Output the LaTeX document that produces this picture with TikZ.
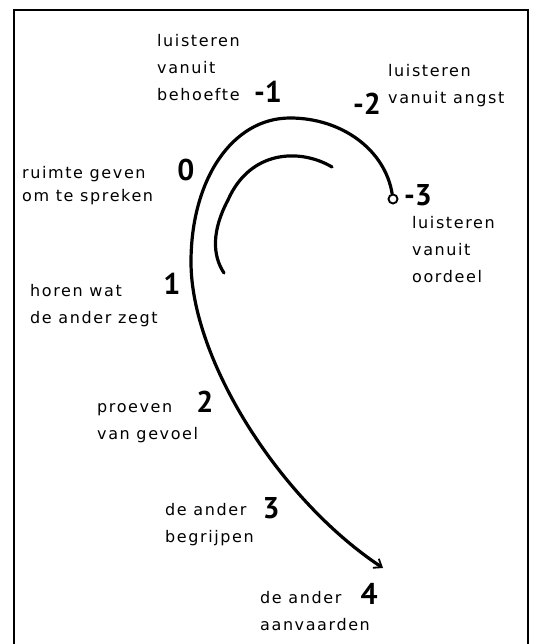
\documentclass[tikz,border=0pt]{standalone}
\usepackage{fontspec}
\usepackage{tikz}
\usetikzlibrary{arrows.meta}
\setmainfont{DejaVu Sans}[LetterSpace=10]
\newfontfamily\stepfamily{PT Sans}
\newcommand{\handfont}{\fontsize{16}{27}\selectfont}
\newcommand{\handtight}{\fontsize{16}{23}\selectfont}
\newcommand{\stepfont}{\stepfamily\bfseries\fontsize{30}{30}\selectfont}

\begin{document}
\begin{tikzpicture}[
  x=1pt, y=-1pt,
  lbl/.style={anchor=west, align=left, inner sep=0pt, font=\handfont},
  num/.style={inner sep=0pt, font=\stepfont},
  curve/.style={line width=3.2pt, line cap=round}
]
\useasboundingbox (0,0) rectangle (540,644);
\draw[line width=1.4pt] (14,650) -- (14,10) -- (528,10) -- (528,650);

\node[draw, circle, line width=1.9pt, minimum size=9pt, inner sep=0pt, fill=white] (start) at (393,199) {};
\coordinate (peak) at (290,118);
\coordinate (side) at (191,262);
\coordinate (finish) at (383,568);
\draw[curve, -{Straight Barb[length=2.5mm, width=3.8mm, line width=1.8pt]}] (start)
  .. controls (385,150) and (342,118) .. (peak)
  .. controls (232,118) and (191,180) .. (side)
  .. controls (191,360) and (280,500) .. (finish);

\coordinate (innerA) at (332,167);
\coordinate (innerB) at (228,200);
\coordinate (innerC) at (224,273);
\draw[curve] (innerA) .. controls (300,148) and (250,150) .. (innerB)
  .. controls (212,230) and (212,255) .. (innerC);

\node[num] (m1) at (268,92) {-1};
\node[num] (m2) at (367,104) {-2};
\node[num] (n0) at (186,170) {0};
\node[num] (m3) at (418,195) {-3};
\node[num] (n1) at (172,284) {1};
\node[num] (n2) at (205,402) {2};
\node[num] (n3) at (271,508) {3};
\node[num] (n4) at (369,594) {4};

\node[lbl] (behoefte) at (157,68) {luisteren\\vanuit\\behoefte};
\node[lbl] (angst) at (388,86) {luisteren\\vanuit angst};
\node[lbl, font=\handtight] (ruimte) at (22,186) {ruimte geven\\om te spreken};
\node[lbl] (oordeel) at (412,250) {luisteren\\vanuit\\oordeel};
\node[lbl] (horen) at (30,306) {horen wat\\de ander zegt};
\node[lbl] (proeven) at (97,423) {proeven\\van gevoel};
\node[lbl] (begrijpen) at (165,525) {de ander\\begrijpen};
\node[lbl] (aanvaarden) at (260,611) {de ander\\aanvaarden};
\end{tikzpicture}
\end{document}
